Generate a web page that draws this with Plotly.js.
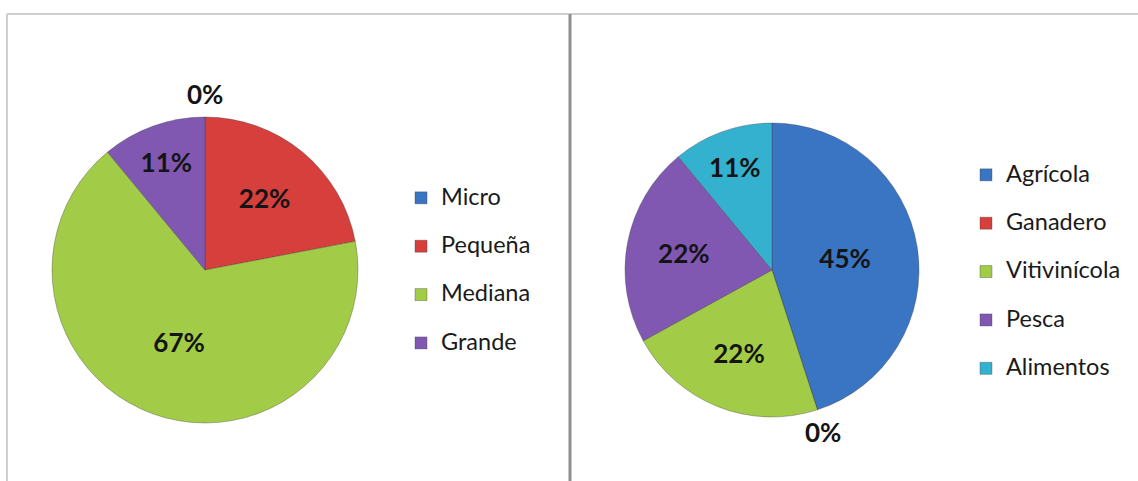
<!DOCTYPE html>
<html>
<head>
<meta charset="utf-8">
<script src="https://cdn.plot.ly/plotly-3.0.1.min.js"></script>
<style>html,body{margin:0;padding:0;background:#fff;}#chart{width:1138px;height:481px;}</style>
</head>
<body>
<div id="chart"></div>
<script>
// Left chart: company size
const sizeLabels = ["Micro", "Pequeña", "Mediana", "Grande"];
const sizeValues = [0, 22, 67, 11];
const sizeColors = ["#3A75C4", "#D63F3C", "#A2CC47", "#8058B2"];

// Right chart: sector
const sectorLabels = ["Agrícola", "Ganadero", "Vitivinícola", "Pesca", "Alimentos"];
const sectorValues = [45, 0, 22, 22, 11];
const sectorColors = ["#3A75C4", "#D63F3C", "#A2CC47", "#8058B2", "#34B1CF"];

const W = 1138, H = 481;
const px = v => v / W;
const py = v => 1 - v / H;

function legendText(arr) { return arr.map(s => "<span style='font-size:23.5px'>" + s + "</span><br> "); }
function templates(vals) { return vals.map(v => v === 0 ? "" : "%{percent:.0%}"); }

const labelFont = {family: "Lato, sans-serif", size: 26, color: "#141414", weight: "bold"};

const common = {
  type: "pie",
  sort: false,
  direction: "clockwise",
  rotation: 0,
  textposition: "inside",
  insidetextorientation: "horizontal",
  textfont: labelFont,
  insidetextfont: labelFont,
  hoverinfo: "skip",
  automargin: false
};

const cxL = 205, cyL = 270, rL = 153;
const cxR = 772, cyR = 270, rR = 147;

const traces = [
  Object.assign({}, common, {
    labels: legendText(sizeLabels),
    values: sizeValues,
    texttemplate: templates(sizeValues),
    marker: {colors: sizeColors, line: {color: "rgba(60,60,60,0.35)", width: 1}},
    domain: {x: [px(cxL - rL), px(cxL + rL)], y: [py(cyL + rL), py(cyL - rL)]},
    legend: "legend"
  }),
  Object.assign({}, common, {
    labels: legendText(sectorLabels),
    values: sectorValues,
    texttemplate: templates(sectorValues),
    marker: {colors: sectorColors, line: {color: "rgba(60,60,60,0.35)", width: 1}},
    domain: {x: [px(cxR - rR), px(cxR + rR)], y: [py(cyR + rR), py(cyR - rR)]},
    legend: "legend2"
  })
];

// labels for zero-valued slices, placed just outside the pie at the slice's angle
function zeroAnnotations(vals, cx, cy, r) {
  const total = vals.reduce((a, b) => a + b, 0);
  const out = [];
  let cum = 0;
  vals.forEach(v => {
    if (v === 0) {
      const ang = 2 * Math.PI * cum / total;
      const d = r + 23;
      out.push({
        xref: "paper", yref: "paper",
        x: px(cx + d * Math.sin(ang) - 4 * Math.sin(ang)), y: py(cy - d * Math.cos(ang)),
        xanchor: "center", yanchor: "middle", showarrow: false,
        text: "0%", font: labelFont
      });
    }
    cum += v;
  });
  return out;
}

const legendFont = {family: "Lato, sans-serif", size: 17.45, color: "#1a1a1a"};
const layout = {
  width: W, height: H,
  margin: {l: 0, r: 0, t: 0, b: 0},
  paper_bgcolor: "#ffffff",
  plot_bgcolor: "#ffffff",
  showlegend: true,
  legend: {x: px(409), y: py(180), xanchor: "left", yanchor: "top", font: legendFont,
           valign: "top", itemwidth: 30, indentation: -8, bgcolor: "rgba(0,0,0,0)", traceorder: "normal"},
  legend2: {x: px(974), y: py(157), xanchor: "left", yanchor: "top", font: legendFont,
            valign: "top", itemwidth: 30, indentation: -8, bgcolor: "rgba(0,0,0,0)", traceorder: "normal"},
  annotations: zeroAnnotations(sizeValues, cxL, cyL, rL).concat(zeroAnnotations(sectorValues, cxR, cyR, rR)),
  shapes: [
    {type: "line", xref: "paper", yref: "paper", x0: px(7), x1: 1, y0: py(14), y1: py(14), line: {color: "#cfcfcf", width: 2}},
    {type: "line", xref: "paper", yref: "paper", x0: px(7), x1: px(7), y0: py(14), y1: 0, line: {color: "#cfcfcf", width: 2}},
    {type: "line", xref: "paper", yref: "paper", x0: px(570), x1: px(570), y0: py(14), y1: 0, line: {color: "#8f8f8f", width: 3}}
  ]
};

Plotly.newPlot("chart", traces, layout, {displayModeBar: false, staticPlot: true});
</script>
</body>
</html>
